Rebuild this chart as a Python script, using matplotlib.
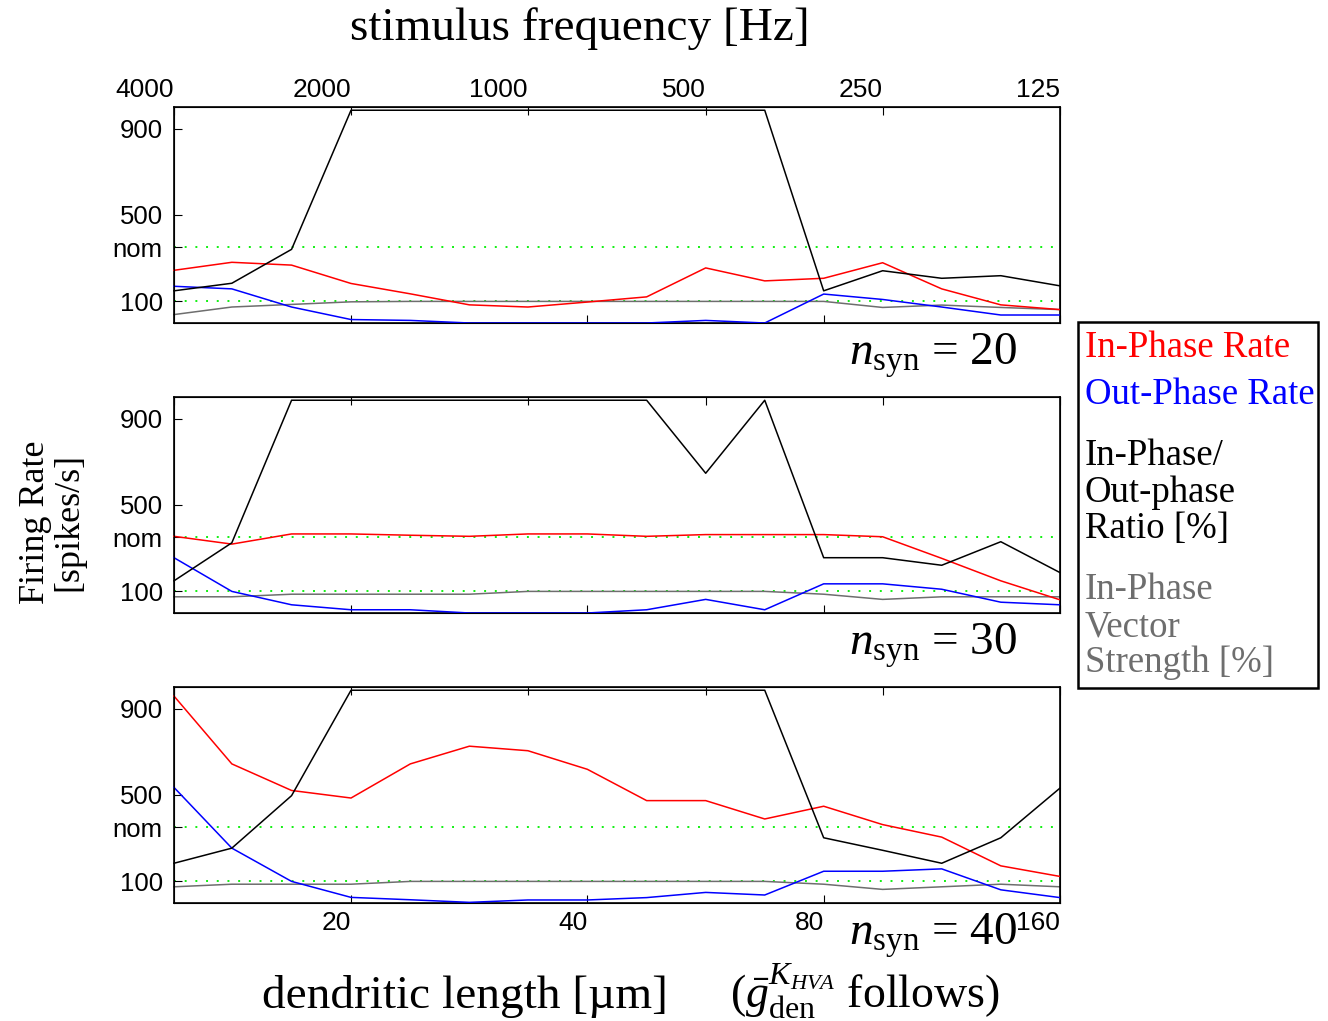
import matplotlib
matplotlib.use('Agg')
import matplotlib.pyplot as plt
from matplotlib.patches import Rectangle
from matplotlib.ticker import NullLocator

plt.rcParams['mathtext.fontset'] = 'custom'
plt.rcParams['mathtext.rm'] = 'Liberation Serif'
plt.rcParams['mathtext.it'] = 'Liberation Serif:italic'
plt.rcParams['mathtext.bf'] = 'Liberation Serif:bold'

# dendritic length [um] at each simulated point (4 per octave)
lengths = [11.9, 14.1, 16.8, 20.0, 23.8, 28.3, 33.6, 40.0, 47.6, 56.6, 67.3, 80.0, 95.1, 113.1, 134.5, 160.0]
len_ticks = [20, 40, 80, 160]
# stimulus frequency labels sit on every third point
freq_labels = ['4000', '2000', '1000', '500', '250', '125']
freq_idx = [0, 3, 6, 9, 12, 15]

nsyn = [20, 30, 40]

red = [
    [244, 281, 268, 183, 135, 84, 74, 97, 121, 255, 195, 207, 279, 158, 84, 62],
    [355, 319, 366, 366, 360, 355, 366, 366, 355, 363, 363, 363, 353, 253, 149, 61],
    [958, 644, 521, 486, 644, 726, 705, 619, 474, 474, 389, 448, 363, 305, 172, 123],
]
blue = [
    [170, 158, 74, 16, 12, 0, 0, 0, 0, 12, 0, 134, 109, 74, 37, 37],
    [256, 100, 38, 15, 15, 0, 0, 0, 15, 63, 15, 135, 135, 110, 50, 38],
    [535, 254, 100, 26, 15, 3, 14, 14, 25, 49, 37, 147, 147, 158, 61, 25],
]
black = [
    [149, 184, 341, 985, 985, 985, 985, 985, 985, 985, 985, 149, 242, 207, 219, 172],
    [149, 325, 985, 985, 985, 985, 985, 985, 985, 647, 985, 256, 256, 221, 330, 187],
    [184, 254, 497, 985, 985, 985, 985, 985, 985, 985, 985, 302, 244, 184, 302, 532],
]
gray = [
    [39, 74, 86, 98, 100, 100, 100, 100, 100, 100, 100, 100, 72, 83, 72, 62],
    [75, 75, 87, 87, 87, 87, 100, 100, 100, 100, 100, 87, 63, 75, 75, 75],
    [75, 87, 87, 87, 100, 100, 100, 100, 100, 100, 100, 87, 63, 75, 87, 75],
]

nom = 350
ytick_vals = [100, nom, 500, 900]
ytick_labels = ['100', 'nom', '500', '900']

W, H = 1328, 1021
fig = plt.figure(figsize=(W / 100, H / 100), dpi=100)

sans = 'Liberation Sans'
serif = 'Liberation Serif'
grey_c = '#6e6e6e'
green_c = '#11f011'

panel_tops = [107, 397, 687]
ph = 216
for k in range(3):
    top = panel_tops[k]
    ax = fig.add_axes([174 / W, 1 - (top + ph) / H, 886 / W, ph / H])
    ax.set_xscale('log', base=2)
    ax.axhline(nom, color=green_c, lw=1.4, ls=(0, (1, 4.5)), zorder=1)
    ax.axhline(100, color=green_c, lw=1.4, ls=(0, (1, 4.5)), zorder=1)
    ax.plot(lengths, gray[k], color=grey_c, lw=1.1, zorder=2, clip_on=False)
    ax.plot(lengths, red[k], color='#ff0000', lw=1.1, zorder=3, clip_on=False)
    ax.plot(lengths, blue[k], color='#0000ff', lw=1.1, zorder=3, clip_on=False)
    ax.plot(lengths, black[k], color='black', lw=1.1, zorder=4, clip_on=False)
    ax.set_xlim(lengths[0], lengths[-1])
    ax.set_ylim(0, 1000)
    ax.xaxis.set_minor_locator(NullLocator())
    ax.set_xticks(len_ticks)
    ax.set_yticks(ytick_vals)
    ax.set_yticklabels(ytick_labels, fontfamily=sans, fontsize=18.5)
    ax.tick_params(axis='y', direction='in', length=6, pad=8, right=False)
    ax.tick_params(axis='x', direction='in', length=6, pad=6)
    if k == 2:
        ax.set_xticklabels([str(v) for v in len_ticks], fontfamily=sans, fontsize=19)
        for lab in ax.get_xticklabels():
            lab.set_ha('right')
    else:
        ax.set_xticklabels([])
    for s in ax.spines.values():
        s.set_linewidth(1.2)

    axt = ax.twiny()
    axt.set_xscale('log', base=2)
    axt.set_xlim(ax.get_xlim())
    axt.xaxis.set_minor_locator(NullLocator())
    axt.set_xticks([lengths[i] for i in freq_idx])
    axt.tick_params(axis='x', direction='in', length=6, pad=3.5)
    if k == 0:
        axt.set_xticklabels(freq_labels, fontfamily=sans, fontsize=19)
        for lab in axt.get_xticklabels():
            lab.set_ha('right')
    else:
        axt.set_xticklabels([])

    fig.text(1017 / W, 1 - (top + ph + 42) / H, r'$n_{\mathrm{syn}}$ = %d' % nsyn[k],
             fontfamily=serif, fontsize=34, ha='right', va='baseline')

fig.text(580 / W, 1 - 29 / H, 'stimulus frequency [Hz]', fontfamily=serif, fontsize=34,
         ha='center', va='center')
fig.text(52 / W, 1 - 522 / H, 'Firing Rate\n[spikes/s]', fontfamily=serif, fontsize=26,
         rotation=90, ha='center', va='center', linespacing=1.0)
fig.text(465 / W, 1 - 1008 / H, 'dendritic length [µm]', fontfamily=serif, fontsize=34,
         ha='center', va='baseline')
fig.text(730 / W, 1 - 1008 / H, r'($\bar{g}^{K_{HVA}}_{\mathrm{den}}$ follows)',
         fontfamily=serif, fontsize=33, ha='left', va='baseline')

# legend box
fig.patches.append(Rectangle((1078 / W, 1 - 688 / H), 240 / W, 366 / H, fill=False,
                             lw=1.8, edgecolor='black', transform=fig.transFigure))
leg = [
    ('In-Phase Rate', '#ff0000', 348),
    ('Out-Phase Rate', '#0000ff', 395),
    ('In-Phase/', 'black', 456),
    ('Out-phase', 'black', 493),
    ('Ratio [%]', 'black', 529),
    ('In-Phase', grey_c, 590),
    ('Vector', grey_c, 627),
    ('Strength [%]', grey_c, 663),
]
for txt, c, y in leg:
    fig.text(1085 / W, 1 - y / H, txt, color=c, fontfamily=serif, fontsize=26.5,
             ha='left', va='center')

fig.savefig('out.png', dpi=100)
